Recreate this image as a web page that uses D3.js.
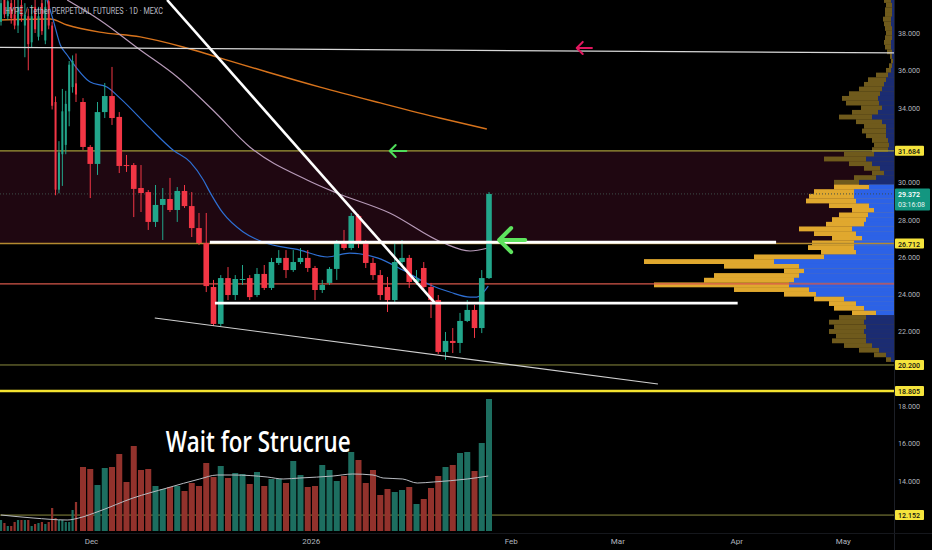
<!DOCTYPE html>
<html>
<head>
<meta charset="utf-8">
<script src="https://cdn.jsdelivr.net/npm/d3@7"></script>
<style>
  html, body { margin: 0; padding: 0; background: #000; overflow: hidden; }
  svg { display: block; font-family: Roboto, "Noto Sans", sans-serif; }
</style>
</head>
<body>
<svg id="chart"></svg>
<script>
// ---- candles (bar index 0..22 are the compressed November bars, 23..79 the daily bars) ----
const opens = [
  38.6, 39.8, 38.9, 39.6, 39.0, 38.4, 39.5, 38.4, 38.9, 37.5, 39.4, 37.8, 39.6, 37.6, 39.7, 38.4, 34.3, 29.6, 31.5, 32.0, 33.8, 35.1, 35.3,
  34.30, 31.89, 30.98, 33.76, 34.62, 33.50, 30.92, 30.92, 29.69, 29.47, 27.87, 28.78, 29.10, 28.51, 29.53, 28.72, 27.54, 26.74, 24.38, 22.40,
  24.86, 23.95, 24.76, 24.86, 23.95, 25.08, 24.33, 25.67, 25.94, 25.29, 25.72, 25.94, 25.40, 24.22, 24.60, 25.35, 26.79, 26.47, 28.19, 26.74,
  25.67, 25.02, 24.38, 23.68, 25.72, 25.94, 24.65, 25.40, 24.38, 23.68, 20.90, 21.49, 21.38, 22.56, 23.15, 22.18, 24.86
];
const highs = [
  40.2, 40.5, 40.3, 40.0, 39.8, 40.0, 40.1, 39.6, 39.3, 39.5, 40.0, 39.4, 40.0, 39.9, 40.2, 38.6, 34.6, 32.2, 35.0, 34.9, 36.5, 36.8, 36.9,
  34.51, 31.99, 34.30, 35.32, 36.18, 33.76, 31.46, 31.03, 30.92, 29.58, 29.85, 29.69, 30.23, 29.74, 29.85, 29.47, 28.35, 28.35, 24.76, 25.02,
  25.45, 25.02, 25.56, 25.02, 25.40, 25.56, 25.94, 26.36, 26.36, 26.36, 26.47, 26.36, 25.51, 24.76, 25.45, 26.90, 27.44, 28.35, 28.29, 26.90,
  25.94, 25.29, 24.92, 26.79, 26.90, 26.10, 25.29, 25.72, 24.60, 23.95, 21.97, 22.18, 22.99, 23.68, 23.42, 25.29, 29.47
];
const lows = [
  38.4, 38.8, 38.7, 38.5, 38.2, 38.0, 38.6, 36.7, 36.0, 37.2, 38.0, 37.6, 37.9, 37.4, 38.2, 33.9, 29.3, 29.4, 29.8, 31.5, 33.0, 34.8, 34.3,
  31.73, 29.15, 30.39, 33.44, 33.07, 30.49, 30.55, 28.13, 28.40, 27.44, 27.60, 26.90, 28.40, 27.87, 28.62, 27.06, 26.63, 24.11, 22.29, 22.29,
  23.68, 23.68, 24.49, 23.68, 23.84, 24.22, 24.22, 25.56, 24.86, 25.19, 25.61, 25.19, 23.68, 24.06, 24.49, 24.76, 26.36, 26.36, 26.47, 25.40,
  24.76, 23.68, 23.04, 23.58, 25.45, 24.33, 24.49, 24.22, 22.72, 20.79, 20.47, 20.84, 20.84, 22.50, 21.65, 21.91, 24.81
];
const closes = [
  39.6, 39.0, 39.7, 38.8, 38.4, 39.4, 38.9, 39.0, 37.4, 38.9, 38.2, 38.9, 38.1, 39.4, 38.4, 34.1, 29.6, 31.6, 33.8, 34.2, 36.3, 36.5, 34.7,
  31.89, 30.98, 33.76, 34.62, 33.44, 30.87, 30.87, 29.64, 29.42, 27.87, 28.78, 29.10, 28.51, 29.53, 28.72, 27.54, 26.74, 24.43, 22.40, 24.86,
  23.95, 24.81, 24.81, 23.84, 25.08, 24.33, 25.72, 25.94, 25.29, 25.72, 25.94, 25.40, 24.22, 24.49, 25.35, 26.79, 26.47, 28.19, 26.74, 25.67,
  25.02, 23.95, 23.68, 25.72, 25.94, 24.65, 24.81, 24.38, 23.68, 20.90, 21.49, 21.38, 22.56, 23.15, 22.18, 24.86, 29.37
];
const volumes = [
  11, 8, 5, 5, 9, 11, 11, 11, 11, 5, 7, 8, 9, 7, 9, 23, 13, 11, 11, 9, 9, 21, 29,
  64, 62, 46, 63, 64, 77, 49, 85, 61, 62, 45, 42, 44, 45, 40, 48, 45, 68, 54, 65,
  53, 58, 57, 47, 59, 45, 52, 52, 48, 70, 56, 44, 45, 66, 61, 50, 55, 79, 71, 48,
  61, 36, 42, 39, 41, 44, 27, 32, 43, 55, 64, 66, 78, 79, 60, 88, 132
];

// ---- moving averages: bar index / value ----
const maSlowIdx = [-0.3, 14.4, 19.4, 25.3, 30.9, 36.8, 41.5, 48.4, 55.7, 64.0, 72.2, 78.7];
const maSlowVal = [38.70, 38.75, 38.43, 38.05, 37.79, 37.25, 36.71, 35.91, 35.10, 34.25, 33.44, 32.85];
const maMidIdx = [19.4, 25.3, 30.9, 36.0, 40.9, 46.0, 53.9, 58.0, 65.3, 72.7, 76.4, 78.9];
const maMidVal = [39.77, 38.70, 37.09, 35.64, 33.87, 31.89, 30.12, 29.42, 28.35, 26.74, 26.31, 26.47];
const maFastIdx = [13.5, 15.3, 17.4, 19.4, 24.0, 26.3, 28.1, 32.2, 35.4, 37.8, 39.6, 40.5, 42.3, 45.1, 47.8, 52.9, 56.7, 59.8, 63.6, 67.1, 70.9, 73.6, 76.4, 77.3, 78.9];
const maFastVal = [39.77, 38.70, 37.36, 36.82, 35.37, 35.10, 34.51, 32.91, 31.73, 31.08, 30.12, 29.47, 28.35, 27.33, 26.79, 26.36, 25.99, 26.20, 25.94, 25.29, 24.49, 24.11, 23.84, 23.84, 24.43];
const volMaIdx = [0, 9.4, 19.4, 22.4, 25.3, 29.9, 34.6, 39.1, 41.5, 43.7, 48.4, 50.6, 52.9, 57.5, 60.2, 63.0, 64.4, 67.1, 69.1, 71.3, 76.0, 78.9];
const volMaVal = [16, 13, 11, 13, 20, 33, 43, 52, 56, 56, 54, 52, 53, 55, 57, 56, 53, 52, 48, 49, 52, 55];

// ---- volume profile (price rows, total and buy part) ----
const profPrice = [39.75, 39.5, 39.25, 39.0, 38.75, 38.5, 38.25, 38.0, 37.75, 37.5, 37.25, 37.0, 36.75, 36.5, 36.25, 36.0,
  35.75, 35.5, 35.25, 35.0, 34.75, 34.5, 34.25, 34.0, 33.75, 33.5, 33.25, 33.0, 32.75, 32.5, 32.25, 32.0,
  31.75, 31.5, 31.25, 31.0, 30.75, 30.5, 30.25, 30.0, 29.75, 29.5, 29.25, 29.0, 28.75, 28.5, 28.25, 28.0,
  27.75, 27.5, 27.25, 27.0, 26.75, 26.5, 26.25, 26.0, 25.75, 25.5, 25.25, 25.0, 24.75, 24.5, 24.25, 24.0,
  23.75, 23.5, 23.25, 23.0, 22.75, 22.5, 22.25, 22.0, 21.75, 21.5, 21.25, 21.0, 20.75, 20.5];
const profTotal = [10, 8, 9, 9, 11, 10, 9, 8, 9, 10, 9, 7, 4, 3, 5, 8,
  18, 26, 30, 35, 45, 52, 48, 33, 42, 55, 38, 30, 32, 28, 22, 20,
  22, 50, 70, 45, 30, 22, 40, 60, 60, 80, 85, 88, 65, 42, 55, 62,
  68, 95, 80, 62, 82, 86, 73, 140, 250, 170, 110, 180, 190, 240, 160, 110,
  80, 65, 60, 42, 55, 65, 60, 65, 58, 62, 50, 35, 20, 8];
const profBuy = [3, 2, 2, 2, 3, 3, 2, 2, 2, 3, 3, 2, 2, 1, 2, 3,
  6, 8, 10, 12, 14, 16, 15, 12, 16, 22, 12, 8, 8, 8, 6, 5,
  6, 20, 28, 22, 14, 10, 18, 35, 25, 40, 40, 38, 25, 20, 26, 28,
  30, 42, 38, 32, 40, 40, 38, 70, 120, 95, 90, 95, 100, 105, 85, 78,
  50, 38, 30, 18, 28, 30, 28, 30, 28, 28, 22, 15, 8, 3];
const valueAreaHigh = 29.75;
const valueAreaLow = 23.0;

// ---- levels, drawings and axis labels ----
const zoneTop = 31.684;
const zoneBottom = 26.712;
const lastPrice = 29.372;
const redLevel = 24.55;
const levelPrices = [20.2, 18.805, 12.152];
const badgePrices = [31.684, 26.712, 20.2, 18.805, 12.152];
const yTicks = [14, 16, 18, 22, 24, 26, 28, 30, 34, 36, 38];
const xTickIdx = [24.1, 54.4, 82, 96.7, 113.1, 127.8];
const xTickLabels = ['Dec', '2026', 'Feb', 'Mar', 'Apr', 'May'];
const topLine = [[-1, 37.23], [135, 36.93]];
const downTrend = [[34.6, 39.77], [71.55, 23.52]];
const lowerTrend = [[32.9, 22.72], [102.3, 19.18]];
const rangeHigh = [[40.5, 26.78], [118.6, 26.78]];
const rangeLow = [[41.2, 23.52], [113.3, 23.52]];
const arrowPink = [91.1, 93.2, 37.20];
const arrowGreenSmall = [65.3, 67.6, 31.67];
const arrowGreenBig = [80.4, 84.0, 26.90];
const noteText = 'Wait for Strucrue';
const notePos = [34.4, 15.53];

// ---- layout ----
const width = 932, height = 550;
const plotRight = 894, volBase = 531;
const green = '#22a68b', red = '#f23645';

const svg = d3.select('#chart').attr('width', width).attr('height', height);
svg.append('rect').attr('width', width).attr('height', height).attr('fill', '#000');

svg.append('defs').append('clipPath').attr('id', 'plotClip')
  .append('rect').attr('x', 0).attr('y', 0).attr('width', plotRight).attr('height', volBase);

const x = d3.scaleLinear().domain([0, 22, 23, 140]).range([1, 76, 83, 931.25]);
const y = d3.scaleLinear().domain([12, 38]).range([517.9, 33]);
const vy = d3.scaleLinear().domain([0, 132]).range([volBase, 399]);
const pw = d3.scaleLinear().domain([0, 250]).range([0, 250]);

const plot = svg.append('g').attr('clip-path', 'url(#plotClip)');

// Zone between the two key levels
plot.append('rect')
  .attr('x', 0).attr('y', y(zoneTop))
  .attr('width', plotRight).attr('height', y(zoneBottom) - y(zoneTop))
  .attr('fill', '#1f0711');

// Volume profile on the right edge
const rowH = y(0) - y(0.25);
const rows = profPrice.map((p, i) => ({ p, total: profTotal[i], buy: profBuy[i], inVA: p <= valueAreaHigh && p >= valueAreaLow }));
plot.append('g').selectAll('rect')
  .data(rows).join('rect')
  .attr('x', d => plotRight - pw(d.total))
  .attr('y', d => y(d.p) - rowH / 2)
  .attr('width', d => pw(d.total))
  .attr('height', rowH + 0.2)
  .attr('fill', d => d.inVA ? '#e0a82e' : '#6f5a1c');
plot.append('g').selectAll('rect')
  .data(rows).join('rect')
  .attr('x', d => plotRight - pw(d.buy))
  .attr('y', d => y(d.p) - rowH / 2)
  .attr('width', d => pw(d.buy))
  .attr('height', rowH + 0.2)
  .attr('fill', d => d.inVA ? '#2c62e6' : '#1b2c72');

// Horizontal levels
plot.append('line').attr('x1', 0).attr('x2', plotRight)
  .attr('y1', y(zoneTop)).attr('y2', y(zoneTop))
  .attr('stroke', '#a39a3a').attr('stroke-width', 1.3);
plot.append('line').attr('x1', 0).attr('x2', plotRight)
  .attr('y1', y(zoneBottom)).attr('y2', y(zoneBottom))
  .attr('stroke', '#b38a30').attr('stroke-width', 1.3);
plot.append('line').attr('x1', 0).attr('x2', plotRight)
  .attr('y1', y(lastPrice)).attr('y2', y(lastPrice))
  .attr('stroke', '#3d4f4a').attr('stroke-width', 1).attr('stroke-dasharray', '1,2');
plot.append('line').attr('x1', 0).attr('x2', plotRight)
  .attr('y1', y(redLevel)).attr('y2', y(redLevel))
  .attr('stroke', '#d5574a').attr('stroke-width', 1.4);
plot.selectAll('.lvl')
  .data(levelPrices).join('line')
  .attr('class', 'lvl')
  .attr('x1', 0).attr('x2', plotRight)
  .attr('y1', d => y(d)).attr('y2', d => y(d))
  .attr('stroke', (d, i) => i === 1 ? '#f4e330' : '#8a8a3e')
  .attr('stroke-width', (d, i) => i === 1 ? 2.6 : 1);

// Volume bars + their average
plot.append('g').selectAll('rect')
  .data(volumes).join('rect')
  .attr('x', (d, i) => x(i) - (i < 23 ? 1.1 : 3))
  .attr('y', d => vy(d))
  .attr('width', (d, i) => i < 23 ? 2.2 : 6)
  .attr('height', d => volBase - vy(d))
  .attr('fill', (d, i) => closes[i] >= opens[i] ? '#1d6e60' : '#92322c');

plot.append('path')
  .datum(d3.zip(volMaIdx, volMaVal))
  .attr('fill', 'none').attr('stroke', '#b9bcc2').attr('stroke-width', 1)
  .attr('d', d3.line().x(d => x(d[0])).y(d => vy(d[1])).curve(d3.curveMonotoneX));

// Price moving averages
const maLine = d3.line().x(d => x(d[0])).y(d => y(d[1])).curve(d3.curveMonotoneX);
plot.append('path').datum(d3.zip(maSlowIdx, maSlowVal))
  .attr('fill', 'none').attr('stroke', '#d7731c').attr('stroke-width', 1.4).attr('d', maLine);
plot.append('path').datum(d3.zip(maMidIdx, maMidVal))
  .attr('fill', 'none').attr('stroke', '#b79ab8').attr('stroke-width', 1.2).attr('d', maLine);
plot.append('path').datum(d3.zip(maFastIdx, maFastVal))
  .attr('fill', 'none').attr('stroke', '#2e6fd3').attr('stroke-width', 1.2).attr('d', maLine);

// Candles
const candles = opens.map((o, i) => ({ i, o, h: highs[i], l: lows[i], c: closes[i] }));
const cg = plot.append('g');
cg.selectAll('.wick')
  .data(candles).join('line')
  .attr('class', 'wick')
  .attr('x1', d => x(d.i)).attr('x2', d => x(d.i))
  .attr('y1', d => y(d.h)).attr('y2', d => y(d.l))
  .attr('stroke', d => d.c >= d.o ? green : red)
  .attr('stroke-width', 1);
cg.selectAll('.body')
  .data(candles).join('rect')
  .attr('class', 'body')
  .attr('x', d => x(d.i) - (d.i < 23 ? 1 : 2.8))
  .attr('y', d => y(Math.max(d.o, d.c)))
  .attr('width', d => d.i < 23 ? 2 : 5.6)
  .attr('height', d => Math.max(1, Math.abs(y(d.o) - y(d.c))))
  .attr('fill', d => d.c >= d.o ? green : red);

// Drawings
const seg = d3.line().x(d => x(d[0])).y(d => y(d[1]));
plot.append('path').datum(topLine).attr('d', seg)
  .attr('stroke', '#d8d8d8').attr('stroke-width', 1.3).attr('fill', 'none');
plot.append('path').datum(lowerTrend).attr('d', seg)
  .attr('stroke', '#d0d0d0').attr('stroke-width', 1.1).attr('fill', 'none');
plot.append('path').datum(downTrend).attr('d', seg)
  .attr('stroke', '#ffffff').attr('stroke-width', 2.6).attr('fill', 'none');
plot.append('path').datum(rangeHigh).attr('d', seg)
  .attr('stroke', '#ffffff').attr('stroke-width', 2.8).attr('fill', 'none');
plot.append('path').datum(rangeLow).attr('d', seg)
  .attr('stroke', '#ffffff').attr('stroke-width', 2.8).attr('fill', 'none');

function arrow(a, color, arm, sw) {
  const tx = x(a[0]), ex = x(a[1]), ay = y(a[2]);
  plot.append('path')
    .attr('d', `M${ex},${ay}L${tx},${ay}M${tx + arm},${ay - arm}L${tx},${ay}L${tx + arm},${ay + arm}`)
    .attr('fill', 'none').attr('stroke', color).attr('stroke-width', sw)
    .attr('stroke-linecap', 'round').attr('stroke-linejoin', 'round');
}
arrow(arrowPink, '#e2175f', 6, 2);
arrow(arrowGreenSmall, '#4fdc5a', 6, 2);
arrow(arrowGreenBig, '#5ee35e', 12, 4);

plot.append('text')
  .attr('x', x(notePos[0])).attr('y', y(notePos[1]))
  .attr('fill', '#ffffff').attr('font-size', 28).attr('font-weight', 600)
  .attr('font-family', '"Open Sans", sans-serif')
  .attr('textLength', 185).attr('lengthAdjust', 'spacingAndGlyphs')
  .text(noteText);

// Title
svg.append('text')
  .attr('x', 5).attr('y', 14)
  .attr('fill', '#b8bbc3').attr('font-size', 8.5)
  .attr('textLength', 158).attr('lengthAdjust', 'spacingAndGlyphs')
  .text('HYPE / Tether PERPETUAL FUTURES · 1D · MEXC');

// Separators
svg.append('line').attr('x1', plotRight + 0.5).attr('x2', plotRight + 0.5).attr('y1', 0).attr('y2', height)
  .attr('stroke', '#1c1f26').attr('stroke-width', 1);
svg.append('line').attr('x1', 0).attr('x2', width).attr('y1', volBase + 2.5).attr('y2', volBase + 2.5)
  .attr('stroke', '#15171c').attr('stroke-width', 1);

// Right price axis
const yAxis = svg.append('g')
  .attr('transform', `translate(${plotRight + 1},0)`)
  .call(d3.axisRight(y).tickValues(yTicks).tickFormat(d3.format('.3f')).tickSize(0).tickPadding(3));
yAxis.select('.domain').remove();
yAxis.selectAll('text')
  .attr('fill', '#b2b5be').attr('font-size', 8).attr('font-family', 'Roboto, sans-serif')
  .attr('textLength', 22).attr('lengthAdjust', 'spacingAndGlyphs');

const badges = svg.append('g');
badges.selectAll('rect')
  .data(badgePrices).join('rect')
  .attr('x', plotRight + 1).attr('y', d => y(d) - 5)
  .attr('width', 29).attr('height', 10).attr('rx', 1)
  .attr('fill', '#f5e43c');
badges.selectAll('text')
  .data(badgePrices).join('text')
  .attr('x', plotRight + 4).attr('y', d => y(d) + 3)
  .attr('fill', '#111').attr('font-size', 8).attr('font-weight', 500)
  .attr('textLength', 22).attr('lengthAdjust', 'spacingAndGlyphs')
  .text(d => d.toFixed(3));

const cur = svg.append('g');
cur.append('rect')
  .attr('x', plotRight + 1).attr('y', y(lastPrice) - 5.5)
  .attr('width', 35).attr('height', 22).attr('rx', 1)
  .attr('fill', '#139680');
cur.append('text')
  .attr('x', plotRight + 4).attr('y', y(lastPrice) + 3)
  .attr('fill', '#fff').attr('font-size', 8).attr('font-weight', 600)
  .attr('textLength', 22).attr('lengthAdjust', 'spacingAndGlyphs')
  .text(lastPrice.toFixed(3));
cur.append('text')
  .attr('x', plotRight + 4).attr('y', y(lastPrice) + 13)
  .attr('fill', '#e6f4f1').attr('font-size', 8)
  .attr('textLength', 27).attr('lengthAdjust', 'spacingAndGlyphs')
  .text('03:16:08');

// Bottom time axis
const xAxis = svg.append('g')
  .attr('transform', `translate(0,${volBase + 4})`)
  .call(d3.axisBottom(x).tickValues(xTickIdx).tickFormat((d, i) => xTickLabels[i]).tickSize(0).tickPadding(3));
xAxis.select('.domain').remove();
xAxis.selectAll('text')
  .attr('fill', '#b2b5be').attr('font-size', 8).attr('font-family', 'Roboto, sans-serif');
</script>
</body>
</html>
